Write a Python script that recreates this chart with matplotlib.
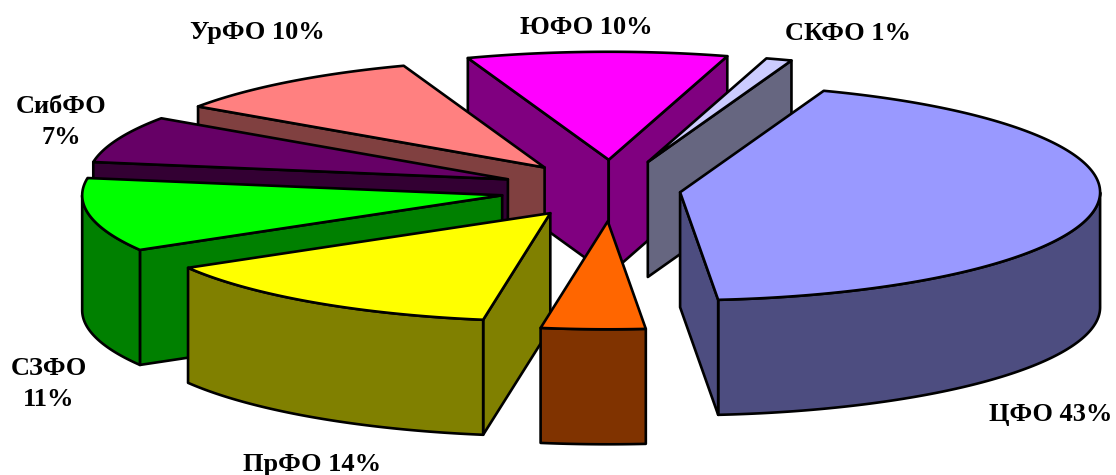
import numpy as np
import matplotlib
matplotlib.use("Agg")
import matplotlib.pyplot as plt
from matplotlib.patches import Polygon

plt.rcParams['font.family'] = ['Liberation Serif', 'DejaVu Sans']

# slices in drawing order of the pie, clockwise from the start angle
regions = ['ЦФО', 'ДФО', 'ПрФО', 'СЗФО', 'СибФО', 'УрФО', 'ЮФО', 'СКФО']
shares = [43, 4, 14, 11, 7, 10, 10, 1]
explode = [0.1635, 0.29, 0.26, 0.266, 0.267, 0.263, 0.28, 0.273]
top_colors = ['#9999FF', '#FF6600', '#FFFF00', '#00FF00', '#660066', '#FF8080', '#FF00FF', '#CCCCFF']
side_colors = ['#4D4D80', '#803300', '#808000', '#008000', '#330033', '#804040', '#800080', '#666680']

# back to front
paint_order = ['ЮФО', 'СКФО', 'УрФО', 'СибФО', 'СЗФО', 'ПрФО', 'ЦФО', 'ДФО']

start_angle = 70.0
cx, cy = 612, 190
rx, ry = 420, 108
depth = 115


def draw_slice(ax, t1, t2, frac, top, side):
    mid = np.radians((t1 + t2) / 2)
    ox = cx + frac * rx * np.cos(mid)
    oy = cy - frac * ry * np.sin(mid)
    theta = np.radians(np.linspace(t1, t2, max(int(abs(t2 - t1)) * 2, 8)))
    xs = np.r_[ox, ox + rx * np.cos(theta)]
    ys = np.r_[oy, oy - ry * np.sin(theta)]
    # walls: an edge running to the left faces the viewer (clockwise outline)
    nx = np.r_[xs[1:], xs[0]]
    ny = np.r_[ys[1:], ys[0]]
    run = []
    runs = []
    for i in range(len(xs)):
        if nx[i] < xs[i]:
            if not run or run[-1] != i - 1:
                run = []
                runs.append(run)
            run.append(i)
    for r in runs:
        # split cut faces from the curved rim so they get their own outline
        pieces = []
        cur = [r[0]]
        for i in r[1:]:
            if i == 1 or i == len(xs) - 1:
                pieces.append(cur)
                cur = [i]
            else:
                cur.append(i)
        pieces.append(cur)
        for p in pieces:
            a = [(xs[i], ys[i]) for i in p] + [(nx[p[-1]], ny[p[-1]])]
            b = [(x, y + depth) for x, y in a[::-1]]
            ax.add_patch(Polygon(a + b, closed=True, fc=side, ec='black', lw=1.9, joinstyle='round'))
    ax.add_patch(Polygon(np.c_[xs, ys], closed=True, fc=top, ec='black', lw=1.9, joinstyle='round'))


fig = plt.figure(figsize=(11.16, 4.75), dpi=100)
ax = fig.add_axes([0, 0, 1, 1])
ax.set_xlim(0, 1116)
ax.set_ylim(475, 0)
ax.axis('off')

sweeps = np.array(shares) * 3.6
ends = start_angle - np.cumsum(sweeps)
starts = ends + sweeps
for name in paint_order:
    i = regions.index(name)
    draw_slice(ax, starts[i], ends[i], explode[i], top_colors[i], side_colors[i])

labels = [
    ('УрФО 10%', 257, 32),
    ('ЮФО 10%', 586, 27),
    ('СКФО 1%', 848, 33),
    ('СибФО\n7%', 61, 122),
    ('СЗФО\n11%', 49, 384),
    ('ПрФО 14%', 312, 464),
    ('ЦФО 43%', 1051, 415),
]
for text, x, y in labels:
    ax.text(x, y, text, ha='center', va='center', fontsize=19, fontweight='bold', linespacing=1.45)

fig.savefig('out.png', dpi=100)
